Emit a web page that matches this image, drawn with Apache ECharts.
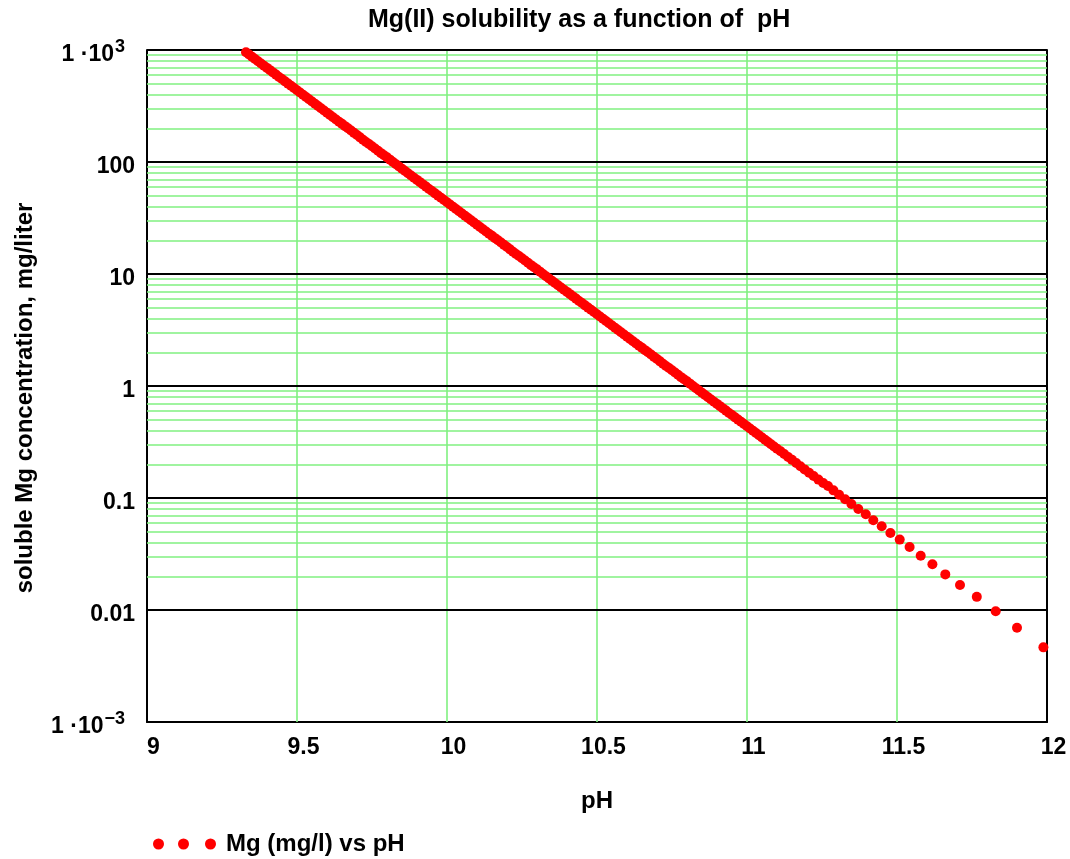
<!DOCTYPE html>
<html>
<head>
<meta charset="utf-8">
<script src="https://cdn.jsdelivr.net/npm/echarts@6/dist/echarts.min.js"></script>
<style>
  html, body { margin: 0; padding: 0; background: #fff; }
  #chart { width: 1070px; height: 859px; }
</style>
</head>
<body>
<div id="chart"></div>
<script>
// pH values (dense part first, then the separate dots)
const phValues = [
  9.33, 9.34, 9.35, 9.36, 9.37, 9.38, 9.39, 9.40, 9.41, 9.42, 9.43, 9.44, 9.45, 9.46, 9.47, 9.48, 9.49, 9.50, 9.51, 9.52,
  9.53, 9.54, 9.55, 9.56, 9.57, 9.58, 9.59, 9.60, 9.61, 9.62, 9.63, 9.64, 9.65, 9.66, 9.67, 9.68, 9.69, 9.70, 9.71, 9.72,
  9.73, 9.74, 9.75, 9.76, 9.77, 9.78, 9.79, 9.80, 9.81,
  9.82, 9.83, 9.84, 9.85, 9.86, 9.87, 9.88, 9.89, 9.90, 9.91, 9.92, 9.93, 9.94, 9.95, 9.96, 9.97, 9.98, 9.99, 10.00, 10.01,
  10.02, 10.03, 10.04, 10.05, 10.06, 10.07, 10.08, 10.09, 10.10, 10.11, 10.12, 10.13, 10.14, 10.15, 10.16, 10.17, 10.18, 10.19, 10.20, 10.21,
  10.22, 10.23, 10.24, 10.25, 10.26, 10.27, 10.28, 10.29, 10.30, 10.31,
  10.32, 10.33, 10.34, 10.35, 10.36, 10.37, 10.38, 10.39, 10.40, 10.41, 10.42, 10.43, 10.44, 10.45, 10.46, 10.47, 10.48, 10.49, 10.50, 10.51,
  10.52, 10.53, 10.54, 10.55, 10.56, 10.57, 10.58, 10.59, 10.60, 10.61, 10.62, 10.63, 10.64, 10.65, 10.66, 10.67, 10.68, 10.69, 10.70, 10.71,
  10.72, 10.73, 10.74, 10.75, 10.76, 10.77, 10.78, 10.79, 10.80, 10.81,
  10.82, 10.83, 10.84, 10.85, 10.86, 10.87, 10.88, 10.89, 10.90, 10.91, 10.92, 10.93, 10.94, 10.95, 10.96, 10.97, 10.98, 10.99, 11.00, 11.01,
  11.02, 11.03, 11.04, 11.05, 11.06, 11.07, 11.08, 11.09, 11.10,
  11.112, 11.124, 11.137, 11.150, 11.164, 11.178, 11.192, 11.207, 11.222, 11.238, 11.254,
  11.270, 11.288, 11.307, 11.327, 11.348, 11.371, 11.396, 11.421, 11.449, 11.478,
  11.509, 11.542, 11.579, 11.618, 11.661, 11.710, 11.766, 11.829, 11.900, 11.988
];

// soluble Mg, mg/liter, same order as phValues
const mgValues = [
  955, 912, 871, 832, 794, 759, 724, 692, 661, 631, 603, 575, 550, 525, 501, 479, 457, 437, 417, 398,
  380, 363, 347, 331, 316, 302, 288, 275, 263, 251, 240, 229, 219, 209, 200, 191, 182, 174, 166, 158,
  151, 145, 138, 132, 126, 120, 115, 110, 105,
  100, 95.5, 91.2, 87.1, 83.2, 79.4, 75.9, 72.4, 69.2, 66.1, 63.1, 60.3, 57.5, 55.0, 52.5, 50.1, 47.9, 45.7, 43.7, 41.7,
  39.8, 38.0, 36.3, 34.7, 33.1, 31.6, 30.2, 28.8, 27.5, 26.3, 25.1, 24.0, 22.9, 21.9, 20.9, 20.0, 19.1, 18.2, 17.4, 16.6,
  15.8, 15.1, 14.5, 13.8, 13.2, 12.6, 12.0, 11.5, 11.0, 10.5,
  10.0, 9.55, 9.12, 8.71, 8.32, 7.94, 7.59, 7.24, 6.92, 6.61, 6.31, 6.03, 5.75, 5.50, 5.25, 5.01, 4.79, 4.57, 4.37, 4.17,
  3.98, 3.80, 3.63, 3.47, 3.31, 3.16, 3.02, 2.88, 2.75, 2.63, 2.51, 2.40, 2.29, 2.19, 2.09, 2.00, 1.91, 1.82, 1.74, 1.66,
  1.58, 1.51, 1.45, 1.38, 1.32, 1.26, 1.20, 1.15, 1.10, 1.05,
  1.00, 0.955, 0.912, 0.871, 0.832, 0.794, 0.759, 0.724, 0.692, 0.661, 0.631, 0.603, 0.575, 0.550, 0.525, 0.501, 0.479, 0.457, 0.437, 0.417,
  0.398, 0.380, 0.363, 0.347, 0.331, 0.316, 0.302, 0.288, 0.275,
  0.261, 0.247, 0.232, 0.219, 0.205, 0.192, 0.180, 0.168, 0.157, 0.146, 0.136,
  0.128, 0.117, 0.107, 0.0974, 0.0884, 0.0798, 0.0715, 0.0632, 0.0559, 0.0487,
  0.0425, 0.0365, 0.0305, 0.0256, 0.0208, 0.0167, 0.0131, 0.00973, 0.00695, 0.00464
];

// tick labels for the log axis (exponent -> label)
const yTickLabels = {
  '3': '{a|1 ·10}{s|3}',
  '2': '{a|100}',
  '1': '{a|10}',
  '0': '{a|1}',
  '-1': '{a|0.1}',
  '-2': '{a|0.01}',
  '-3': '{a|1 ·10}{s|\u22123}'
};
const xTicks = [9.5, 10, 10.5, 11, 11.5];
const decades = [0.001, 0.01, 0.1, 1, 10, 100, 1000];

const GREEN = '#80f080';
const FONT = '"Liberation Sans", Arial, sans-serif';

let chart = echarts.init(document.getElementById('chart'));

let points = phValues.map((p, i) => [p, mgValues[i]]);

// grid lines: green minor lines (2..9 in each decade), green verticals, black decades on top
let gridLines = [];
for (let d = 0; d < decades.length - 1; d++) {
  for (let m = 2; m <= 9; m++) {
    gridLines.push({ yAxis: decades[d] * m, lineStyle: { color: GREEN, width: 1.6, type: 'solid' } });
  }
}
xTicks.forEach(x => gridLines.push({ xAxis: x, lineStyle: { color: GREEN, width: 1.6, type: 'solid' } }));
decades.forEach(v => gridLines.push({ yAxis: v, lineStyle: { color: '#000', width: 2, type: 'solid' } }));

let option = {
  animation: false,
  textStyle: { fontFamily: FONT },
  title: {
    text: 'Mg(II) solubility as a function of  pH',
    left: 368,
    top: 8,
    padding: 0,
    textStyle: { fontSize: 25, fontWeight: 'bold', color: '#000', fontFamily: FONT }
  },
  legend: {
    left: 153,
    top: 832,
    padding: 0,
    itemWidth: 63,
    itemHeight: 11,
    icon: 'path://M0,5.5A5.5,5.5,0,1,1,11,5.5A5.5,5.5,0,1,1,0,5.5Z M25,5.5A5.5,5.5,0,1,1,36,5.5A5.5,5.5,0,1,1,25,5.5Z M52,5.5A5.5,5.5,0,1,1,63,5.5A5.5,5.5,0,1,1,52,5.5Z',
    textStyle: { fontSize: 24, fontWeight: 'bold', color: '#000', fontFamily: FONT, padding: [0, 0, 0, 5] },
    data: ['Mg (mg/l) vs pH']
  },
  grid: { left: 147, right: 23, top: 50, bottom: 137 },
  xAxis: {
    type: 'value',
    min: 9,
    max: 12,
    interval: 0.5,
    name: 'pH',
    nameLocation: 'middle',
    nameGap: 67,
    nameTextStyle: { fontSize: 24, fontWeight: 'bold', color: '#000', fontFamily: FONT },
    axisLine: { lineStyle: { color: '#000', width: 2 } },
    axisTick: { show: false },
    splitLine: { show: false },
    axisLabel: { fontSize: 23, fontWeight: 'bold', color: '#000', margin: 14, padding: [0, 0, 0, 13], fontFamily: FONT }
  },
  yAxis: [
    {
      type: 'log',
      logBase: 10,
      min: 0.001,
      max: 1000,
      interval: 1,
      name: 'soluble Mg concentration, mg/liter',
      nameLocation: 'middle',
      nameGap: 110,
      nameTextStyle: { fontSize: 24, fontWeight: 'bold', color: '#000', fontFamily: FONT, padding: [0, 24, 0, 0] },
      axisLine: { show: true, lineStyle: { color: '#000', width: 2 } },
      axisTick: { show: false },
      splitLine: { show: false },
      axisLabel: {
        margin: 12,
        padding: [10, 0, 0, 0],
        formatter: v => yTickLabels[String(Math.round(Math.log10(v)))] || '',
        rich: {
          a: { fontSize: 23, fontWeight: 'bold', color: '#000', fontFamily: FONT },
          s: { fontSize: 18, fontWeight: 'bold', color: '#000', fontFamily: FONT, padding: [0, 10, 16, 1] }
        }
      }
    },
    {
      // right-hand frame line
      type: 'log',
      logBase: 10,
      min: 0.001,
      max: 1000,
      position: 'right',
      axisLine: { show: true, lineStyle: { color: '#000', width: 2 } },
      axisTick: { show: false },
      axisLabel: { show: false },
      splitLine: { show: false }
    }
  ],
  series: [
    {
      name: 'Mg (mg/l) vs pH',
      type: 'scatter',
      symbol: 'circle',
      symbolSize: 10,
      itemStyle: { color: '#ff0000', opacity: 1 },
      data: points,
      markLine: {
        silent: true,
        z: 1,
        symbol: ['none', 'none'],
        label: { show: false },
        lineStyle: { type: 'solid' },
        animation: false,
        data: gridLines
      }
    }
  ]
};

chart.setOption(option);
</script>
</body>
</html>
